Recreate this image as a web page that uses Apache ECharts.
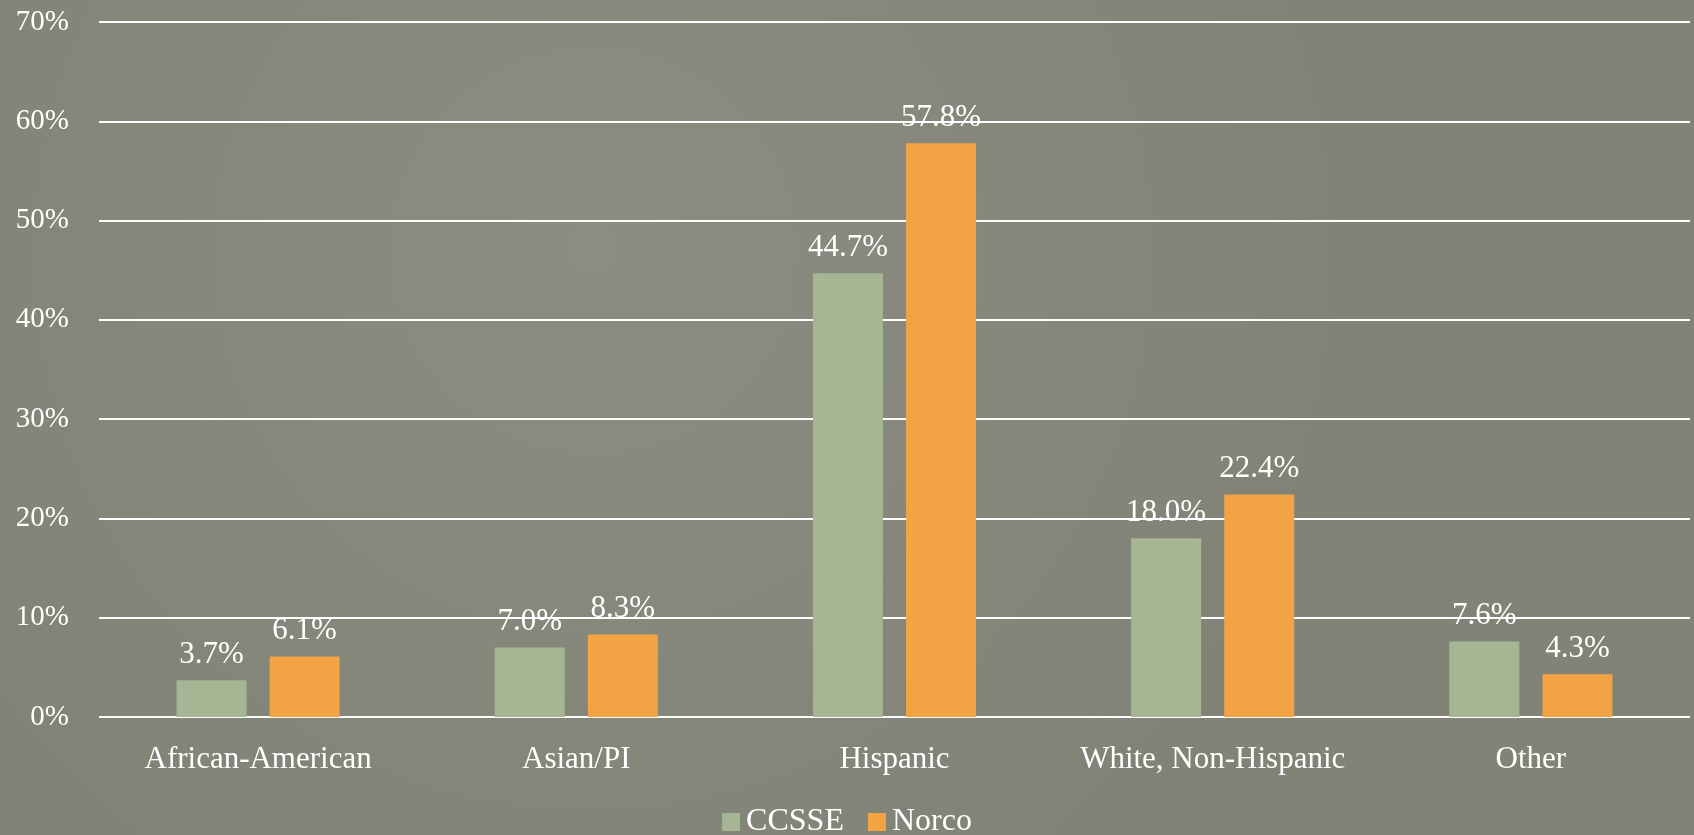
<!DOCTYPE html>
<html>
<head>
<meta charset="utf-8">
<script src="https://cdn.jsdelivr.net/npm/echarts@6/dist/echarts.min.js"></script>
<style>
html,body{margin:0;padding:0;background:#85887a;}
#chart{width:1694px;height:835px;}
</style>
</head>
<body>
<div id="chart"></div>
<script>
const categories = ['African-American', 'Asian/PI', 'Hispanic', 'White, Non-Hispanic', 'Other'];
const ccsse = [3.7, 7.0, 44.7, 18.0, 7.6];
const norco = [6.1, 8.3, 57.8, 22.4, 4.3];
const seriesNames = ['CCSSE', 'Norco'];

const FONT = '"Liberation Serif", "DejaVu Serif", serif';
const chart = echarts.init(document.getElementById('chart'));
const labelOpt = {
  show: true, position: 'top', distance: 10,
  color: '#ffffff', fontFamily: FONT, fontSize: 31,
  formatter: p => p.value.toFixed(1) + '%'
};
chart.setOption({
  backgroundColor: {
    type: 'radial', x: 0.35, y: 0.3, r: 0.9,
    colorStops: [{offset: 0, color: '#8a8d81'}, {offset: 1, color: '#808375'}]
  },
  animation: false,
  grid: {left: 99, right: 4, top: 22, bottom: 118, containLabel: false},
  legend: {
    data: seriesNames, top: 801, left: 'center',
    itemWidth: 18, itemHeight: 18, itemGap: 24,
    icon: 'rect',
    textStyle: {color: '#ffffff', fontFamily: FONT, fontSize: 32, padding: [0, 0, 0, 1]}
  },
  xAxis: {
    type: 'category', data: categories,
    axisLine: {show: false}, axisTick: {show: false},
    axisLabel: {color: '#ffffff', fontFamily: FONT, fontSize: 31, margin: 27, interval: 0}
  },
  yAxis: {
    type: 'value', min: 0, max: 70, interval: 10,
    axisLine: {show: false}, axisTick: {show: false},
    axisLabel: {color: '#ffffff', fontFamily: FONT, fontSize: 29, margin: 30, formatter: v => v + '%'},
    splitLine: {lineStyle: {color: '#ffffff', width: 2}}
  },
  series: [
    {name: seriesNames[0], type: 'bar', data: ccsse, barWidth: 70, barGap: '33%',
     itemStyle: {color: '#a6b593'}, label: labelOpt},
    {name: seriesNames[1], type: 'bar', data: norco, barWidth: 70,
     itemStyle: {color: '#f2a444'}, label: labelOpt}
  ]
});
</script>
</body>
</html>
